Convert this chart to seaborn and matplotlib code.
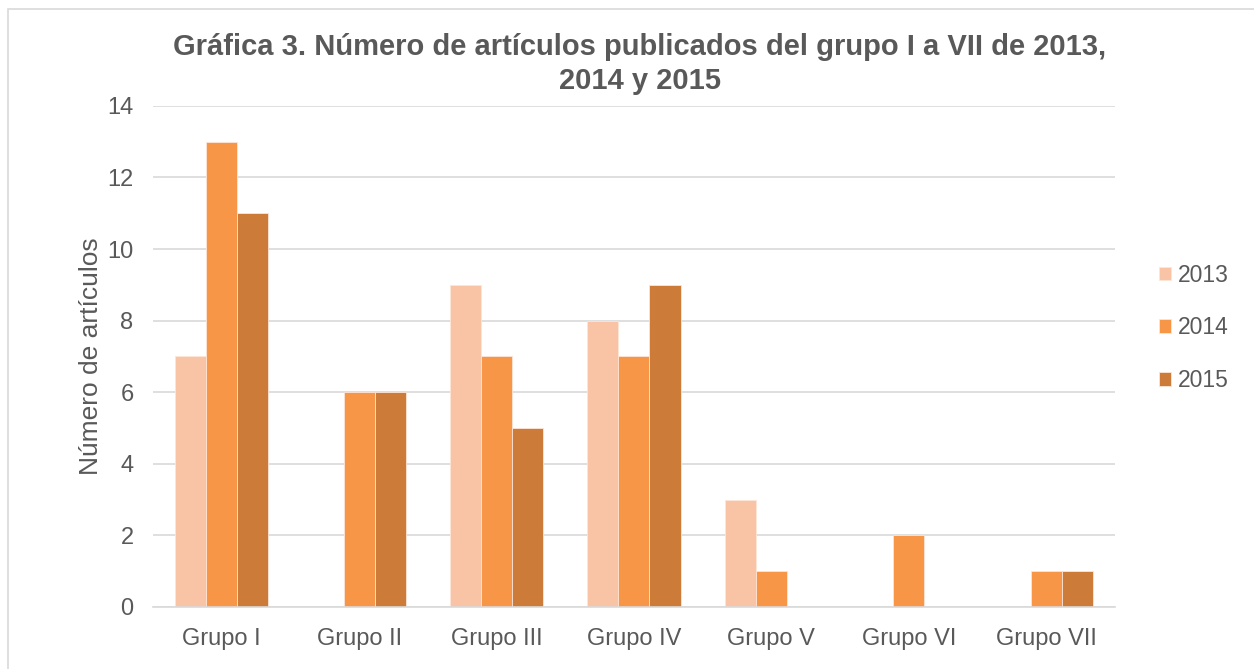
import pandas as pd
import matplotlib.pyplot as plt
import seaborn as sns
from matplotlib.patches import Rectangle

grupos = ["Grupo I", "Grupo II", "Grupo III", "Grupo IV", "Grupo V", "Grupo VI", "Grupo VII"]
anios = ["2013", "2014", "2015"]
v2013 = [7, 0, 9, 8, 3, 0, 0]
v2014 = [13, 6, 7, 7, 1, 2, 1]
v2015 = [11, 6, 5, 9, 0, 0, 1]
colores = ["#F9C3A6", "#F79646", "#CC7B38"]

df = pd.DataFrame({
    "grupo": grupos * 3,
    "anio": [a for a in anios for _ in grupos],
    "valor": v2013 + v2014 + v2015,
})

sns.set_theme(style="white")
plt.rcParams['font.family'] = ['Liberation Sans', 'DejaVu Sans']
gris = "#595959"

fig = plt.figure(figsize=(12.54, 6.69), dpi=100)
ax = fig.add_axes([0.122, 0.0927, 0.767, 0.749])

sns.barplot(data=df, x="grupo", y="valor", hue="anio", palette=colores, saturation=1,
            width=0.68, gap=0, edgecolor="#FDE5D8", linewidth=0.6, ax=ax)

ax.set_ylim(0, 14)
ax.set_yticks(range(0, 15, 2))
ax.yaxis.grid(True, color="#D9D9D9", linewidth=1.2)
ax.set_axisbelow(True)
for s in ["top", "right", "left"]:
    ax.spines[s].set_visible(False)
ax.spines["bottom"].set_color("#D9D9D9")
ax.spines["bottom"].set_linewidth(1.2)
ax.tick_params(axis="both", length=0, labelsize=17, colors=gris)
ax.tick_params(axis="x", pad=15)
ax.tick_params(axis="y", pad=14)
ax.set_xlabel("")
ax.set_ylabel("Número de artículos", fontsize=19, color=gris, labelpad=3)

fig.suptitle("Gráfica 3. Número de artículos publicados del grupo I a VII de 2013,\n2014 y 2015",
             x=0.51, y=0.95, fontsize=21, fontweight="bold", color=gris, linespacing=1.25)

leg = ax.legend(loc="center left", bbox_to_anchor=(1.024, 0.557), frameon=False,
                fontsize=16.5, labelspacing=1.3, handlelength=0.55, handleheight=0.55,
                handletextpad=0.3)
for t in leg.get_texts():
    t.set_color(gris)

fig.patches.append(Rectangle((8 / 1254, -0.1), 1.2, 1 - 9 / 669 + 0.1, transform=fig.transFigure,
                             fill=False, edgecolor="#D9D9D9", linewidth=1.2))

fig.savefig("out.png", dpi=100)
